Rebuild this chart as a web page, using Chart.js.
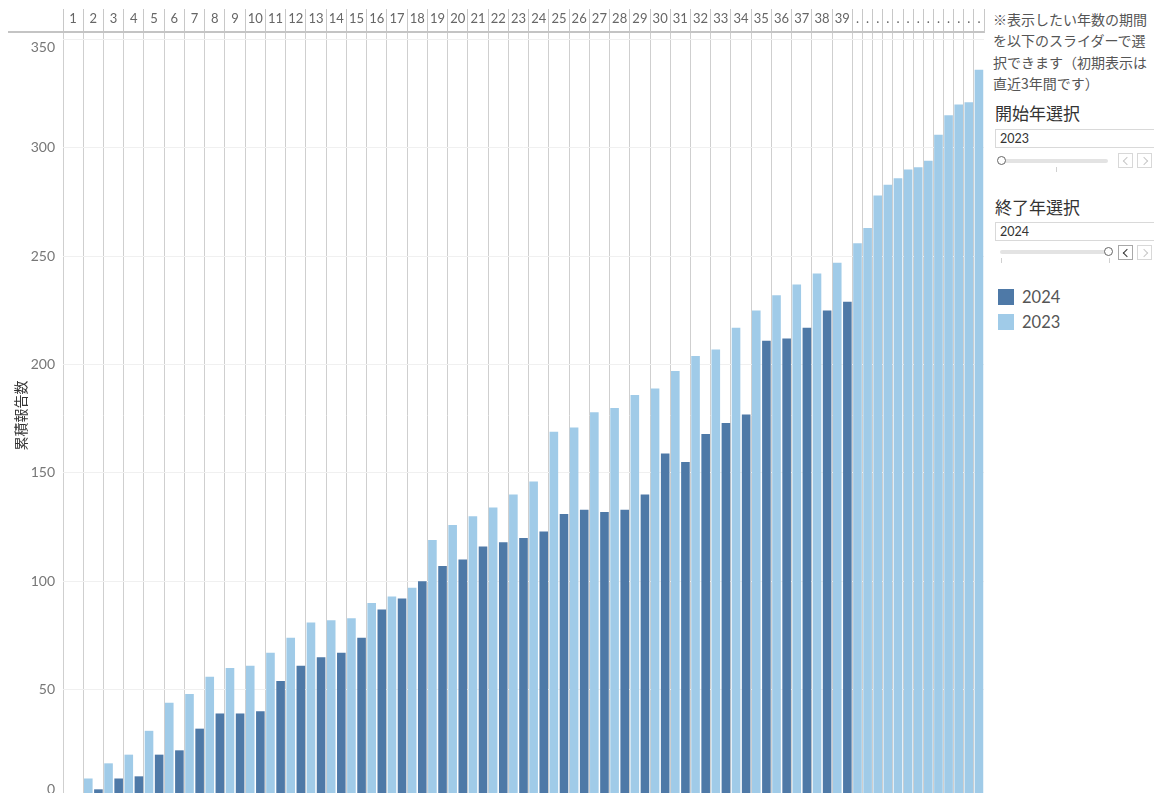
<!DOCTYPE html>
<html lang="ja">
<head>
<meta charset="utf-8">
<title>累積報告数</title>
<script src="https://cdn.jsdelivr.net/npm/chart.js@4.4.1/dist/chart.umd.min.js"></script>
<style>
  html, body { margin: 0; padding: 0; background: #fff; overflow: hidden; }
  body { width: 1154px; height: 793px; position: relative; font-family: Lato, "Noto Sans CJK JP", sans-serif; }
  #chartBox { position: absolute; left: 0; top: 0; width: 988px; height: 798px; }
  #panel { position: absolute; left: 993px; top: 0; width: 161px; height: 793px; overflow: hidden; }
  #panel div { position: absolute; }
  .note { left: 0; top: 9px; font: 14px/21.3px "Noto Sans CJK JP"; color: #555; white-space: nowrap; }
  .ptitle { left: 2px; font: 17px/24px "Noto Sans CJK JP"; color: #333; white-space: nowrap; }
  .yearbox { left: 2px; width: 170px; height: 19px; box-sizing: border-box; border: 1px solid #d9d9d9;
             font: 12.5px/17px Lato, sans-serif; color: #333; padding-left: 4px; }
  .track { left: 7px; width: 108px; height: 4px; background: #e3e3e3; border-radius: 2px; }
  .knob { width: 9px; height: 9px; box-sizing: border-box; border: 1px solid #666; border-radius: 50%; background: #fff; }
  .tick { width: 1px; height: 5px; background: #d0d0d0; }
  .btn { width: 15px; height: 15px; box-sizing: border-box; border: 1px solid #d8d8d8; background: #fff; }
  .btn span { position: absolute; top: 4px; width: 5px; height: 5px; border-left: 1.5px solid #c8c8c8; border-bottom: 1.5px solid #c8c8c8; }
  .btn.prev span { left: 5px; transform: rotate(45deg); }
  .btn.next span { left: 3px; transform: rotate(-135deg); }
  .btn.on { border-color: #a8a8a8; }
  .btn.on span { border-color: #333; }
  .legend-item { left: 5px; height: 16px; }
  .legend-item i { position: absolute; left: 0; top: 0; width: 16px; height: 16px; }
  .legend-item b { position: absolute; left: 24px; top: -3px; font: 400 16.5px/22px Lato, sans-serif; color: #555; }
</style>
</head>
<body>
<div id="chartBox"><canvas id="chart"></canvas></div>

<div id="panel">
  <div class="note">※表示したい年数の期間<br>を以下のスライダーで選<br>択できます（初期表示は<br>直近3年間です）</div>

  <div class="ptitle" style="top:101px">開始年選択</div>
  <div class="yearbox" style="top:129px">2023</div>
  <div class="track" style="top:159px"></div>
  <div class="knob" style="left:4px; top:156px"></div>
  <div class="tick" style="left:63px; top:167px"></div>
  <div class="btn prev" style="left:125px; top:153px"><span></span></div>
  <div class="btn next" style="left:144px; top:153px"><span></span></div>

  <div class="ptitle" style="top:195px">終了年選択</div>
  <div class="yearbox" style="top:222px">2024</div>
  <div class="track" style="top:250px"></div>
  <div class="knob" style="left:111px; top:247px"></div>
  <div class="tick" style="left:8px; top:258px"></div>
  <div class="tick" style="left:116px; top:258px"></div>
  <div class="btn prev on" style="left:125px; top:245px"><span></span></div>
  <div class="btn next" style="left:144px; top:245px"><span></span></div>

  <div id="legend"></div>
</div>

<script>
// week header labels (weeks 40-52 only show a dot in the header)
const weekLabels = [
  '1', '2', '3', '4', '5', '6', '7', '8', '9', '10',
  '11', '12', '13', '14', '15', '16', '17', '18', '19', '20',
  '21', '22', '23', '24', '25', '26', '27', '28', '29', '30',
  '31', '32', '33', '34', '35', '36', '37', '38', '39',
  '.', '.', '.', '.', '.', '.', '.', '.', '.', '.', '.', '.', '.'
];

// cumulative report counts per week
const reports2023 = [
  2, 9, 16, 20, 31, 44, 48, 56, 60, 61,
  67, 74, 81, 82, 83, 90, 93, 97, 119, 126,
  130, 134, 140, 146, 169, 171, 178, 180, 186, 189,
  197, 204, 207, 217, 225, 232, 237, 242, 247, 256,
  263, 278, 283, 286, 290, 291, 294, 306, 315, 320,
  321, 336
];
const reports2024 = [
  0, 4, 9, 10, 20, 22, 32, 39, 39, 40,
  54, 61, 65, 67, 74, 87, 92, 100, 107, 110,
  116, 118, 120, 123, 131, 133, 132, 133, 140, 159,
  155, 168, 173, 177, 211, 212, 217, 225, 229
];

const yTickValues = [0, 50, 100, 150, 200, 250, 300, 350];

const COLOR_2024 = '#4E79A7';
const COLOR_2023 = '#A0CBE8';
const LINE = '#cfcfcf';
const NONE = 'rgba(0,0,0,0)';

// one slot per bar: weeks with both years get two slots, the rest get one
const slots = [];
weekLabels.forEach((label, w) => {
  slots.push({ week: w, year: '2023' });
  if (w < reports2024.length) slots.push({ week: w, year: '2024' });
});

const weekStart = [], weekEnd = [];
slots.forEach((s, i) => {
  if (weekStart[s.week] === undefined) weekStart[s.week] = i;
  weekEnd[s.week] = i;
});

// header ticks: week edges (lines) and week centres (labels)
const headerTicks = [];
weekLabels.forEach((label, w) => {
  headerTicks.push({ value: weekStart[w] - 0.5, label: '', edge: true });
  headerTicks.push({ value: (weekStart[w] + weekEnd[w]) / 2, label: label, edge: false });
});
headerTicks.push({ value: slots.length - 0.5, label: '', edge: true });

function isWeekEdge(i) {
  if (typeof i !== 'number' || i < 0) return false;
  if (i === 0 || i >= slots.length) return true;
  return slots[i].week !== slots[i - 1].week;
}

// keep the first/last y labels inside the plot, like the original does
function yLabel(value) {
  if (value === yTickValues[0]) return [String(value), ''];
  if (value === yTickValues[yTickValues.length - 1]) return ['', String(value)];
  return String(value);
}

function noLabelPadding(scale) {
  scale.paddingTop = 0;
  scale.paddingBottom = 0;
  scale.paddingLeft = 0;
  scale.paddingRight = 0;
}

const headerRule = {
  id: 'headerRule',
  afterDraw(chart) {
    const { ctx, chartArea } = chart;
    ctx.save();
    ctx.strokeStyle = '#c4c4c4';
    ctx.lineWidth = 2;
    ctx.beginPath();
    ctx.moveTo(8, chartArea.top - 1);
    ctx.lineTo(chartArea.right, chartArea.top - 1);
    ctx.stroke();
    ctx.restore();
  }
};

const chart = new Chart(document.getElementById('chart'), {
  type: 'bar',
  plugins: [headerRule],
  data: {
    labels: slots.map(s => weekLabels[s.week] + ' ' + s.year),
    datasets: [{
      label: '2024',
      data: slots.map(s => s.year === '2024' ? reports2024[s.week] : null),
      backgroundColor: COLOR_2024
    }, {
      label: '2023',
      data: slots.map(s => s.year === '2023' ? reports2023[s.week] : null),
      backgroundColor: COLOR_2023
    }]
  },
  options: {
    responsive: true,
    maintainAspectRatio: false,
    animation: false,
    layout: { autoPadding: false, padding: { top: 9, right: 4, bottom: 0, left: 0 } },
    datasets: {
      bar: { grouped: false, categoryPercentage: 1, barPercentage: 0.85 }
    },
    plugins: {
      legend: { display: false },
      tooltip: { enabled: false }
    },
    scales: {
      x: {
        type: 'category',
        position: 'bottom',
        offset: true,
        afterFit: scale => { scale.height = 0; noLabelPadding(scale); },
        grid: {
          offset: true,
          drawTicks: false,
          color: ctx => isWeekEdge(ctx.index) ? LINE : NONE
        },
        border: { display: false },
        ticks: { display: false, autoSkip: false }
      },
      xTop: {
        type: 'linear',
        position: 'top',
        offset: false,
        min: -0.5,
        max: slots.length - 0.5,
        afterBuildTicks: scale => { scale.ticks = headerTicks.map(t => ({ value: t.value })); },
        afterFit: scale => { scale.height = 24; noLabelPadding(scale); },
        grid: {
          offset: false,
          drawOnChartArea: false,
          drawTicks: true,
          tickLength: 24,
          color: ctx => (headerTicks[ctx.index] && headerTicks[ctx.index].edge) ? '#c8c8c8' : NONE
        },
        border: { display: false },
        ticks: {
          autoSkip: false,
          maxRotation: 0,
          minRotation: 0,
          padding: -18,
          color: '#666',
          font: { family: 'Lato', size: 13 },
          callback: (value, index) => headerTicks[index] ? headerTicks[index].label : ''
        }
      },
      y: {
        min: 0,
        max: 353,
        afterBuildTicks: scale => { scale.ticks = yTickValues.map(v => ({ value: v })); },
        afterFit: scale => { scale.width = 63; noLabelPadding(scale); },
        grid: { color: '#f0f0f0', drawTicks: false },
        border: { display: false },
        ticks: {
          color: '#777',
          padding: 8,
          font: { family: 'Lato', size: 14 },
          callback: value => yLabel(value)
        },
        title: {
          display: true,
          text: '累積報告数',
          color: '#333',
          padding: { top: 12, bottom: 0 },
          font: { family: '"Noto Sans CJK JP"', size: 14 }
        }
      }
    }
  }
});

// legend in the side panel, built from the datasets
const legendBox = document.getElementById('legend');
chart.data.datasets.forEach((ds, i) => {
  const item = document.createElement('div');
  item.className = 'legend-item';
  item.style.top = (289 + i * 25) + 'px';
  item.innerHTML = '<i style="background:' + ds.backgroundColor + '"></i><b>' + ds.label + '</b>';
  legendBox.appendChild(item);
});
</script>
</body>
</html>
